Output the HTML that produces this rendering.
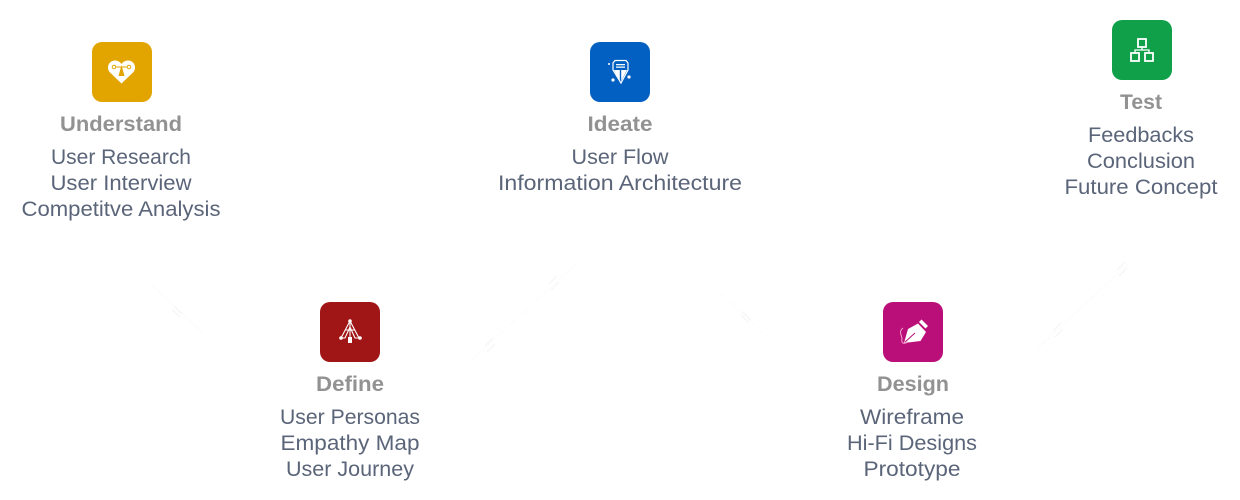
<!DOCTYPE html>
<html>
<head>
<meta charset="utf-8">
<style>
html,body{margin:0;padding:0;background:#fff;}
svg{display:block;}
text{font-family:"Liberation Sans",sans-serif;text-anchor:middle;}
.h{font-size:21px;font-weight:bold;fill:#929292;}
.t{font-size:21px;fill:#5b6579;}
.f{stroke:#fcfcfc;stroke-width:1;fill:none;}
.m{stroke:#f4f4f4;stroke-width:1;fill:none;}
</style>
</head>
<body>
<svg width="1240" height="500" viewBox="0 0 1240 500" xmlns="http://www.w3.org/2000/svg">
<!-- faint connectors -->
<path class="f" d="M150 283L205 335"/>
<path class="m" d="M174 306L182 314M172 309L180 317"/>
<path class="f" d="M473 359L578 262"/>
<path class="m" d="M485 346L493 338M487 352L495 344M549 284L557 276M551 290L559 282"/>
<path class="f" d="M720 293L773 342"/>
<path class="m" d="M743 312L751 320M741 315L749 323"/>
<path class="f" d="M1037 349L1130 262"/>
<path class="m" d="M1053 331L1061 323M1055 337L1063 329M1117 270L1125 262M1119 276L1127 268"/>

<!-- Understand -->
<rect x="92" y="42" width="60" height="60" rx="10" fill="#e2a500"/>
<path d="M121.500 83.500L110 72.500C105.500 67.500 109 60.500 115 60.500C118 60.500 120 62 121.500 64C123 62 125 60.500 128 60.500C134 60.500 137.500 67.500 133 72.500Z" fill="#fff"/>
<path d="M114 67H129" stroke="#e2a500" stroke-width="1"/>
<circle cx="114" cy="67" r="1.800" fill="#fff" stroke="#e2a500"/>
<circle cx="129" cy="67" r="1.800" fill="#fff" stroke="#e2a500"/>
<path d="M121.500 65L124.500 76H118.500Z" fill="#e2a500"/>
<text class="h" x="121" y="131" textLength="122" lengthAdjust="spacingAndGlyphs">Understand</text>
<text class="t" x="121" y="164" textLength="140" lengthAdjust="spacingAndGlyphs">User Research</text>
<text class="t" x="121" y="190" textLength="141" lengthAdjust="spacingAndGlyphs">User Interview</text>
<text class="t" x="121" y="216" textLength="199" lengthAdjust="spacingAndGlyphs">Competitve Analysis</text>

<!-- Ideate -->
<rect x="590" y="42" width="60" height="60" rx="10" fill="#0160c1"/>
<path d="M615 60.500H626L628 63V70L621 83L613 70V63Z" fill="none" stroke="#fff" stroke-width="1.200"/>
<path d="M616 64H625V65.200H616ZM616 66.500H625V67.700H616Z" fill="#fff"/>
<path d="M614 70H619.800V81ZM621.200 70H627L621.200 81Z" fill="#fff"/>
<circle cx="609" cy="64" r="1" fill="#fff"/>
<circle cx="613" cy="80" r="1.600" fill="#fff"/>
<circle cx="629" cy="77" r="1.600" fill="#fff"/>
<text class="h" x="620" y="131" textLength="65" lengthAdjust="spacingAndGlyphs">Ideate</text>
<text class="t" x="620" y="164" textLength="97" lengthAdjust="spacingAndGlyphs">User Flow</text>
<text class="t" x="620" y="190" textLength="244" lengthAdjust="spacingAndGlyphs">Information Architecture</text>

<!-- Test -->
<rect x="1112" y="20" width="60" height="60" rx="10" fill="#11a04a"/>
<g fill="none" stroke="#fff" stroke-width="1.800">
<rect x="1138" y="39" width="8" height="8"/>
<rect x="1131" y="53" width="8" height="8"/>
<rect x="1145" y="53" width="8" height="8"/>
<path d="M1142 47V50M1135 53V50H1149V53" stroke-width="1.300"/>
</g>
<text class="h" x="1141" y="109" textLength="42" lengthAdjust="spacingAndGlyphs">Test</text>
<text class="t" x="1141" y="142" textLength="106" lengthAdjust="spacingAndGlyphs">Feedbacks</text>
<text class="t" x="1141" y="168" textLength="108" lengthAdjust="spacingAndGlyphs">Conclusion</text>
<text class="t" x="1141" y="194" textLength="153" lengthAdjust="spacingAndGlyphs">Future Concept</text>

<!-- Define -->
<rect x="320" y="302" width="60" height="60" rx="10" fill="#a01516"/>
<g stroke="#fff" fill="none" stroke-width="1.100">
<path d="M350 321L341 338M350 321L359 338M341 338H345L350 327L355 338H359M350 321V338M345 330H355"/>
</g>
<circle cx="350" cy="321" r="1.800" fill="#fff"/>
<circle cx="341" cy="338" r="1.800" fill="#fff"/>
<circle cx="360" cy="338" r="1.800" fill="#fff"/>
<rect x="348" y="337" width="4" height="6" fill="#fff"/>
<text class="h" x="350" y="391" textLength="68" lengthAdjust="spacingAndGlyphs">Define</text>
<text class="t" x="350" y="424" textLength="140" lengthAdjust="spacingAndGlyphs">User Personas</text>
<text class="t" x="350" y="450" textLength="139" lengthAdjust="spacingAndGlyphs">Empathy Map</text>
<text class="t" x="350" y="476" textLength="128" lengthAdjust="spacingAndGlyphs">User Journey</text>

<!-- Design -->
<rect x="883" y="302" width="60" height="60" rx="10" fill="#ba0f78"/>
<path d="M904 343L908 329L918 323.500L926 332L920.500 341Z" fill="#fff"/>
<path d="M919 322L921.500 319.500L928 326L925.500 328.500Z" fill="#fff"/>
<path d="M905 342L915 333" stroke="#ba0f78" stroke-width="1"/>
<path d="M903 328C898 332 902 335 902 339C901 344 904 344 908 342" stroke="#f3a5d0" stroke-width="1" fill="none"/>
<text class="h" x="913" y="391" textLength="72" lengthAdjust="spacingAndGlyphs">Design</text>
<text class="t" x="912" y="424" textLength="104" lengthAdjust="spacingAndGlyphs">Wireframe</text>
<text class="t" x="912" y="450" textLength="130" lengthAdjust="spacingAndGlyphs">Hi-Fi Designs</text>
<text class="t" x="912" y="476" textLength="97" lengthAdjust="spacingAndGlyphs">Prototype</text>
</svg>
</body>
</html>
